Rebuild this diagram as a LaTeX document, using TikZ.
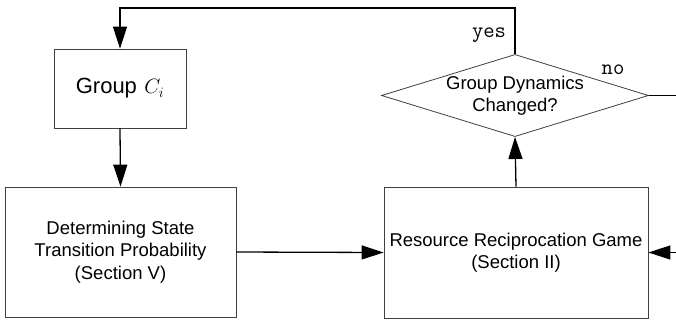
\documentclass[tikz,border=0pt]{standalone}
\usepackage{fontspec}
\setmainfont{Liberation Sans}
\usetikzlibrary{shapes.geometric,arrows.meta}
\begin{document}
\begin{tikzpicture}[x=1pt,y=-1pt,
  boxst/.style={draw=black!75,line width=0.8pt,inner sep=0pt,font=\fontsize{18.5}{22.5}\selectfont,align=center},
  conn/.style={line width=1.3pt},
  arr/.style={conn,-{Triangle[length=22pt,width=14pt]}},
  lbl/.style={font=\ttfamily\fontsize{22}{24}\selectfont,inner sep=0pt}]
\useasboundingbox (0,0) rectangle (676,322);
\node[boxst,minimum width=132,minimum height=79,font=\fontsize{22}{24}\selectfont] (grp) at (120,88.5) {Group\,\,$C_i$};
\node[boxst,minimum width=231,minimum height=130] (det) at (120.5,252) {Determining State\\Transition Probability\\(Section V)};
\node[boxst,minimum width=264,minimum height=131] (res) at (516,252.5) {Resource Reciprocation Game\\(Section II)};
\node[boxst,diamond,aspect=3.25,minimum width=250,minimum height=77] (dia) at (515,95.5) {Group Dynamics\\Changed?};
\coordinate (tl) at (120,8);
\coordinate (tr) at (515,8);
\coordinate (rin) at (676,252.5);
\coordinate (rout) at (676,95.5);
\draw[arr] (dia.north) -- (tr) -- (tl) -- (grp.north);
\draw[arr] (grp.south) -- (det.north);
\draw[arr] (det.east) -- (res.west);
\draw[arr] (rin) -- (res.east);
\draw[arr] (res.north) -- (dia.south);
\draw[conn] (dia.east) -- (rout);
\node[lbl] (yes) at (489,35) {yes};
\node[lbl] (no) at (613,70) {no};
\end{tikzpicture}
\end{document}
